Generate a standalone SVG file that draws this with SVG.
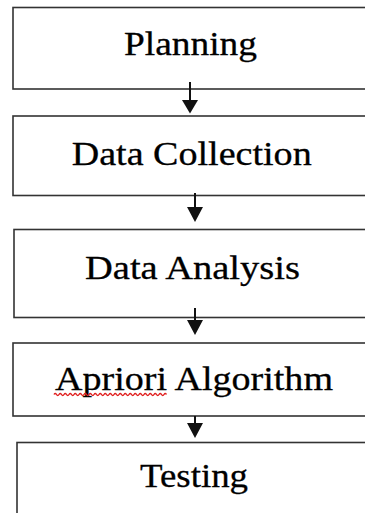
<svg xmlns="http://www.w3.org/2000/svg" width="365" height="513" viewBox="0 0 365 513">
  <defs>
    <style>
      .box { fill: #ffffff; stroke: #333333; stroke-width: 1.6; }
      .label { font-family: "Liberation Serif", "Times New Roman", serif; font-size: 34px; fill: #000000; stroke: #000000; stroke-width: 0.3; text-anchor: middle; }
      .shaft { stroke: #111111; stroke-width: 2; fill: none; }
      .head { fill: #111111; }
      .squiggle { fill: none; stroke: #e02020; stroke-width: 1.4; }
    </style>
  </defs>
  <rect width="365" height="513" fill="#ffffff"/>

  <g id="planning">
    <rect class="box" x="13" y="7.5" width="370" height="81.5"/>
    <text class="label" x="190.5" y="55" textLength="133" lengthAdjust="spacingAndGlyphs">Planning</text>
  </g>

  <g id="data-collection">
    <rect class="box" x="13" y="116" width="370" height="79.5"/>
    <text class="label" x="191.7" y="165" textLength="240" lengthAdjust="spacingAndGlyphs">Data Collection</text>
  </g>

  <g id="data-analysis">
    <rect class="box" x="14" y="229.5" width="370" height="88"/>
    <text class="label" x="192.5" y="278.5" textLength="215" lengthAdjust="spacingAndGlyphs">Data Analysis</text>
  </g>

  <g id="apriori-algorithm">
    <rect class="box" x="13" y="343" width="370" height="73"/>
    <text class="label" x="194" y="390" textLength="278" lengthAdjust="spacingAndGlyphs">Apriori Algorithm</text>
    <!-- spell-check underline beneath the first word -->
    <path class="squiggle" d="M54 394.5 q1.25 -2 2.5 0 t2.5 0 t2.5 0 t2.5 0 t2.5 0 t2.5 0 t2.5 0 t2.5 0 t2.5 0 t2.5 0 t2.5 0 t2.5 0 t2.5 0 t2.5 0 t2.5 0 t2.5 0 t2.5 0 t2.5 0 t2.5 0 t2.5 0 t2.5 0 t2.5 0 t2.5 0 t2.5 0 t2.5 0 t2.5 0 t2.5 0 t2.5 0 t2.5 0 t2.5 0 t2.5 0 t2.5 0 t2.5 0 t2.5 0 t2.5 0 t2.5 0 t2.5 0 t2.5 0 t2.5 0 t2.5 0 t2.5 0 t2.5 0 t2.5 0 t2.5 0 t2.5 0"/>
  </g>

  <g id="testing">
    <rect class="box" x="17" y="442.5" width="370" height="90"/>
    <text class="label" x="194" y="487" textLength="108" lengthAdjust="spacingAndGlyphs">Testing</text>
  </g>

  <g id="connectors">
    <line class="shaft" x1="190" y1="82" x2="190" y2="101"/>
    <polygon class="head" points="182,100 198,100 190,113.5"/>
    <line class="shaft" x1="195" y1="193" x2="195" y2="208"/>
    <polygon class="head" points="187,207 203,207 195,222"/>
    <line class="shaft" x1="195" y1="308" x2="195" y2="321"/>
    <polygon class="head" points="187,320 203,320 195,335"/>
    <line class="shaft" x1="195" y1="416" x2="195" y2="424"/>
    <polygon class="head" points="187,423 203,423 195,438"/>
  </g>
</svg>
